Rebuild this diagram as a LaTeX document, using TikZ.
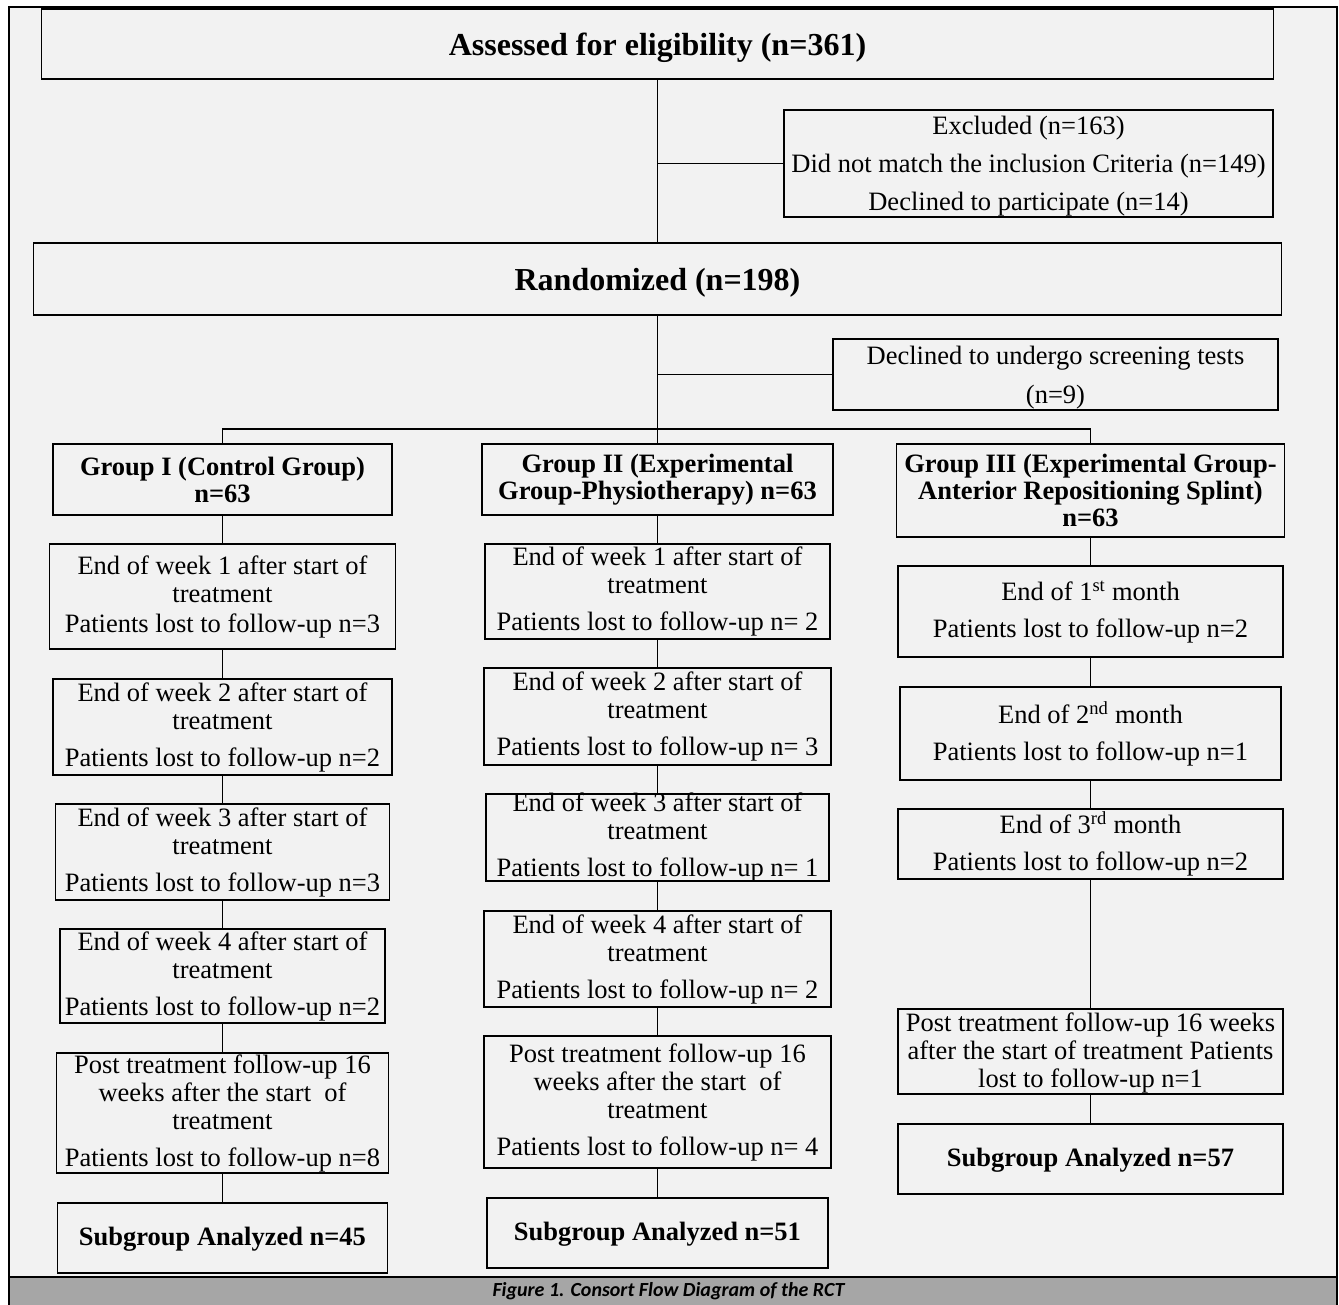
\documentclass[tikz,border=0pt]{standalone}
\usepackage{fontspec}
\setmainfont{Liberation Serif}
\newfontfamily\capfont{Carlito}
\definecolor{bgc}{HTML}{F2F2F2}
\definecolor{capgray}{HTML}{A6A6A6}
\newcommand\bodyfnt{\fontsize{26.5}{28}\selectfont}
\newcommand\titlefnt{\fontsize{32}{36}\selectfont\bfseries}
\newcommand\headfnt{\fontsize{26.5}{27}\selectfont\bfseries}
% lower the text inside a box without changing the box size
\newcommand\dn[2]{\raisebox{-#1pt}[\height][\depth]{\begin{tabular}{@{}c@{}}#2\end{tabular}}}
\tikzset{
  box/.style={draw, line width=1.8pt, inner sep=0pt, align=center, font=\bodyfnt},
  headbox/.style={box, font=\headfnt},
  titlebox/.style={box, font=\titlefnt},
  conn/.style={line width=1.3pt},
  sz/.style 2 args={minimum width=#1pt, minimum height=#2pt},
}
\begin{document}
\begin{tikzpicture}[x=1pt,y=-1pt]
\useasboundingbox (0,0) rectangle (1339,1305);
\fill[white] (0,0) rectangle (1339,1305);
\fill[bgc] (9,7) rectangle (1337,1277);
\fill[capgray] (9,1277) rectangle (1337,1305);
\draw[line width=2.5pt] (9,1305) -- (9,7) -- (1337,7) -- (1337,1305);
\draw[line width=2.5pt] (9,1277) -- (1337,1277);
\node[font=\capfont\fontsize{20}{22}\selectfont\bfseries\itshape] (cap) at (668.5,1291.5) {Figure 1. Consort Flow Diagram of the RCT};

% top part
\node[titlebox, sz={1232}{70}] (assess) at (657.5,44) {\dn{4}{Assessed for eligibility (n=361)}};
\node[box, sz={489}{107}] (excl) at (1028.5,163.5) {\dn{3.5}{Excluded (n=163)\\[10pt]Did not match the inclusion Criteria (n=149)\\[10pt]Declined to participate (n=14)}};
\node[titlebox, sz={1248}{72}] (rand) at (657.5,279) {\dn{4}{Randomized (n=198)}};
\node[box, sz={445}{71}] (decl) at (1055.5,374.5) {\dn{3.5}{Declined to undergo screening tests\\[11pt](n=9)}};

% group headers
\node[headbox, sz={339}{71}] (g1) at (222.5,479.5) {Group I (Control Group)\\n=63};
\node[headbox, sz={351}{71}] (g2) at (657.5,479.5) {Group II (Experimental\\Group-Physiotherapy) n=63};
\node[headbox, sz={388}{93}] (g3) at (1090.5,490.5) {Group III (Experimental Group-\\Anterior Repositioning Splint)\\n=63};

% group I
\node[box, sz={346}{105}] (g1w1) at (222.5,596.5) {End of week 1 after start of\\treatment\\[2pt]Patients lost to follow-up n=3};
\node[box, sz={339}{96}] (g1w2) at (222.5,727) {End of week 2 after start of\\treatment\\[9pt]Patients lost to follow-up n=2};
\node[box, sz={334}{96}] (g1w3) at (222.5,852) {End of week 3 after start of\\treatment\\[9pt]Patients lost to follow-up n=3};
\node[box, sz={325}{94}] (g1w4) at (222.5,976) {End of week 4 after start of\\treatment\\[9pt]Patients lost to follow-up n=2};
\node[box, sz={332}{120}] (g1p) at (222.5,1113) {Post treatment follow-up 16\\weeks after the start~ of\\treatment\\[9pt]Patients lost to follow-up n=8};
\node[headbox, sz={330}{70}] (g1s) at (222.5,1238) {\dn{2}{Subgroup Analyzed n=45}};

% group II
\node[box, sz={345}{95}] (g2w1) at (657.5,591.5) {End of week 1 after start of\\treatment\\[9pt]Patients lost to follow-up n= 2};
\node[box, sz={347}{97}] (g2w2) at (657.5,716.5) {End of week 2 after start of\\treatment\\[9pt]Patients lost to follow-up n= 3};
\node[box, sz={343}{87}, inner ysep=-2pt] (g2w3) at (657.5,837.5) {End of week 3 after start of\\treatment\\[9pt]Patients lost to follow-up n= 1};
\node[box, sz={347}{96}] (g2w4) at (657.5,959) {End of week 4 after start of\\treatment\\[9pt]Patients lost to follow-up n= 2};
\node[box, sz={347}{132}] (g2p) at (657.5,1102) {Post treatment follow-up 16\\weeks after the start~ of\\treatment\\[9pt]Patients lost to follow-up n= 4};
\node[headbox, sz={341}{70}] (g2s) at (657.5,1233) {\dn{2}{Subgroup Analyzed n=51}};

% group III
\node[box, sz={385}{91}] (g3m1) at (1090.5,611.5) {\dn{2}{End of 1\textsuperscript{st} month\\[9pt]Patients lost to follow-up n=2}};
\node[box, sz={381}{93}] (g3m2) at (1090.5,733.5) {End of 2\textsuperscript{nd} month\\[9pt]Patients lost to follow-up n=1};
\node[box, sz={385}{70}] (g3m3) at (1090.5,844) {End of 3\textsuperscript{rd} month\\[9pt]Patients lost to follow-up n=2};
\node[box, sz={385}{85}] (g3p) at (1090.5,1051.5) {\dn{2.5}{Post treatment follow-up 16 weeks\\after the start of treatment Patients\\lost to follow-up n=1}};
\node[headbox, sz={385}{70}] (g3s) at (1090.5,1159) {\dn{2}{Subgroup Analyzed n=57}};

% connectors
\coordinate (split) at (657.5,429);
\draw[conn] (assess.south) -- (rand.north);
\draw[conn] (assess.south |- excl.west) -- (excl.west);
\draw[conn] (rand.south) -- (g2.north);
\draw[conn] (rand.south |- decl.west) -- (decl.west);
\draw[conn] (g1.north) |- (split) -| (g3.north);

\draw[conn] (g1.south) -- (g1w1.north);
\draw[conn] (g1w1.south) -- (g1w2.north);
\draw[conn] (g1w2.south) -- (g1w3.north);
\draw[conn] (g1w3.south) -- (g1w4.north);
\draw[conn] (g1w4.south) -- (g1p.north);
\draw[conn] (g1p.south) -- (g1s.north);

\draw[conn] (g2.south) -- (g2w1.north);
\draw[conn] (g2w1.south) -- (g2w2.north);
\draw[conn] (g2w2.south) -- (g2w3.north);
\draw[conn] (g2w3.south) -- (g2w4.north);
\draw[conn] (g2w4.south) -- (g2p.north);
\draw[conn] (g2p.south) -- (g2s.north);

\draw[conn] (g3.south) -- (g3m1.north);
\draw[conn] (g3m1.south) -- (g3m2.north);
\draw[conn] (g3m2.south) -- (g3m3.north);
\draw[conn] (g3m3.south) -- (g3p.north);
\draw[conn] (g3p.south) -- (g3s.north);
\end{tikzpicture}
\end{document}
